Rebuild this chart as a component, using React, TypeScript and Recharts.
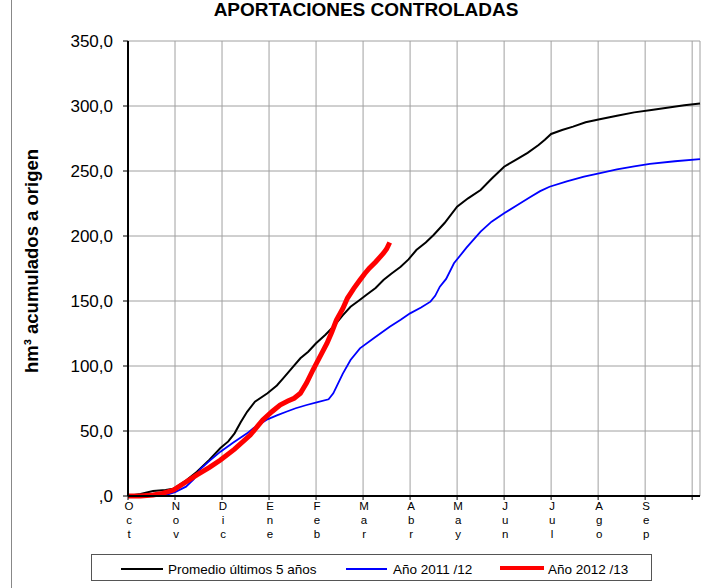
import React from "react";
import { LineChart, Line, XAxis, YAxis, CartesianGrid } from "recharts";

const meses = ["Oct", "Nov", "Dic", "Ene", "Feb", "Mar", "Abr", "May", "Jun", "Jul", "Ago", "Sep"];
const diasTicks = [0, 30, 60, 90, 120, 150, 180, 210, 240, 270, 300, 330, 360];
const diasMenores = [15, 45, 75, 105, 135, 165, 195, 225, 255, 285, 315, 345];
const valoresTicks = [0, 50, 100, 150, 200, 250, 300, 350];
const valoresMenores = [
  12.5, 25, 37.5, 62.5, 75, 87.5, 112.5, 125, 137.5, 162.5, 175, 187.5,
  212.5, 225, 237.5, 262.5, 275, 287.5, 312.5, 325, 337.5,
];

// dias desde el 1 de octubre / hm3 acumulados
const promedioDias = [
  0, 8, 16, 24, 29, 36, 44, 52, 59, 64, 68, 72, 76, 81, 89, 95, 99, 105, 110, 115,
  120, 126, 131, 137, 142, 147, 152, 158, 163, 168, 174, 179, 184, 190, 195, 202,
  210, 217, 225, 232, 240, 248, 255, 262, 266, 270, 277, 284, 292, 301, 312, 323,
  334, 344, 355, 365,
];
const promedioValores = [
  0, 1.5, 3.8, 4.6, 5.6, 11, 18.7, 28, 36.9, 42, 48.2, 57, 64.8, 72.5, 79, 85, 90.5,
  99, 105.9, 111, 117.5, 124, 130.2, 139, 145.6, 150, 154.6, 160, 166.2, 171, 176.4,
  182, 189.2, 195, 200.8, 210, 222.5, 229, 235.4, 244, 253.3, 259, 264, 270, 274,
  278.5, 281.5, 284.1, 287.5, 289.8, 292.5, 295.1, 297, 298.7, 300.5, 302,
];

const anio1112Dias = [
  0, 10, 22, 30, 37, 42, 46, 52, 59, 67, 76, 80, 89, 95, 101, 107, 114, 121, 128,
  131, 133, 137, 142, 148, 157, 167, 174, 180, 187, 193, 196, 199, 203, 208, 216,
  225, 232, 240, 248, 257, 263, 269, 280, 291, 302, 312, 323, 333, 349, 365,
];
const anio1112Valores = [
  0, 0, 0, 3, 7.2, 13, 20.5, 27, 34.1, 41, 48.2, 52.1, 59, 62, 64.8, 67.5, 70, 72.3,
  74.4, 79, 84, 94, 104.6, 113.6, 121.5, 130.2, 135.5, 140.5, 145, 149.5, 154, 161,
  167, 179, 191, 203.3, 211, 217.5, 223.5, 230.2, 234.5, 237.9, 242, 245.6, 248.6,
  251.3, 253.5, 255.4, 257.5, 259.2,
];

const anio1213Dias = [
  0, 8, 16, 22, 29, 36, 44, 52, 59, 68, 78, 86, 92, 97, 102, 106, 110, 114, 118,
  122, 127, 130, 133, 137, 140, 144, 148, 151, 154, 158, 163, 165, 167,
];
const anio1213Valores = [
  0, 0, 0.8, 2, 4.6, 10, 16.2, 22, 27.7, 36, 46.9, 58.5, 65, 70, 73, 75.2, 79, 87,
  96.9, 106, 117.5, 126, 135.4, 144, 152.1, 159.5, 166.2, 171, 175.2, 180, 186.7,
  190, 195,
];

const leyenda = ["Promedio últimos 5 años", "Año 2011 /12", "Año 2012 /13"];

const serie = (dias: number[], valores: number[]) =>
  dias.map((d, i) => ({ d, v: valores[i] }));

const promedio = serie(promedioDias, promedioValores);
const anio1112 = serie(anio1112Dias, anio1112Valores);
const anio1213 = serie(anio1213Dias, anio1213Valores);

const FONT = "'Liberation Sans', Arial, sans-serif";

function MesTick(props: any) {
  const { x, y, payload } = props;
  const mes = meses[Math.round(payload.value / 30)];
  if (!mes) return <g />;
  return (
    <text textAnchor="middle" fontSize={11.5} fontFamily={FONT} fill="#000">
      {mes.split("").map((c, i) => (
        <tspan key={i} x={x + 1} y={y + 8 + i * 14}>
          {c}
        </tspan>
      ))}
    </text>
  );
}

const fmt = (v: number) => (v === 0 ? ",0" : v.toFixed(1).replace(".", ","));

export default function App() {
  return (
    <div style={{ position: "absolute", left: 0, top: 0, width: 723, height: 588, background: "#fff" }}>
      <LineChart
        width={723}
        height={588}
        margin={{ top: 41, right: 23, bottom: 32, left: 0 }}
        style={{ position: "absolute", left: 0, top: 0 }}
      >
        <CartesianGrid stroke="#a0a0a0" />
        <XAxis
          dataKey="d"
          type="number"
          domain={[0, 365]}
          ticks={diasTicks}
          interval={0}
          height={60}
          tick={<MesTick />}
          tickSize={4}
          tickMargin={2}
          axisLine={{ stroke: "#000", strokeWidth: 2 }}
          tickLine={{ stroke: "#000" }}
        />
        <XAxis
          xAxisId="menor"
          dataKey="d"
          type="number"
          domain={[0, 365]}
          ticks={diasMenores}
          interval={0}
          mirror
          height={0}
          tick={false}
          tickSize={3}
          axisLine={false}
          tickLine={{ stroke: "#000" }}
        />
        <YAxis
          type="number"
          domain={[0, 350]}
          ticks={valoresTicks}
          interval={0}
          width={128}
          tickFormatter={fmt}
          tickSize={5}
          tickMargin={10}
          tick={{ fontSize: 17, fill: "#000", fontFamily: FONT }}
          axisLine={{ stroke: "#000", strokeWidth: 2 }}
          tickLine={{ stroke: "#000" }}
        />
        <YAxis
          yAxisId="menor"
          type="number"
          domain={[0, 350]}
          ticks={valoresMenores}
          interval={0}
          mirror
          width={0}
          tick={false}
          tickSize={3}
          axisLine={false}
          tickLine={{ stroke: "#000" }}
        />
        <YAxis
          yAxisId="borde"
          orientation="right"
          type="number"
          domain={[0, 350]}
          ticks={[]}
          width={0}
          tick={false}
          tickLine={false}
          axisLine={{ stroke: "#909090", strokeWidth: 2 }}
        />
        <Line data={promedio} dataKey="v" type="linear" stroke="#000" strokeWidth={2} dot={false} isAnimationActive={false} />
        <Line data={anio1112} dataKey="v" type="linear" stroke="#0000ff" strokeWidth={1.8} dot={false} isAnimationActive={false} />
        <Line data={anio1213} dataKey="v" type="linear" stroke="#ff0000" strokeWidth={5} dot={false} isAnimationActive={false} />
      </LineChart>
      <svg width={723} height={588} style={{ position: "absolute", left: 0, top: 0, pointerEvents: "none" }}>
        <line x1={11.5} y1={0} x2={11.5} y2={588} stroke="#888" />
        <text x={366} y={16} textAnchor="middle" fontWeight="bold" fontSize={19} fontFamily={FONT} fill="#000">
          APORTACIONES CONTROLADAS
        </text>
        <text
          transform="translate(38,261) rotate(-90)"
          textAnchor="middle"
          fontWeight="bold"
          fontSize={18.5}
          fontFamily={FONT}
          fill="#000"
        >
          hm³ acumulados a origen
        </text>
        <rect x={91.5} y={554.5} width={560} height={26} fill="none" stroke="#555" />
        <line x1={121} y1={569} x2={163} y2={569} stroke="#000" strokeWidth={2} />
        <text x={168} y={573.5} fontSize={13.5} fontFamily={FONT} fill="#000">{leyenda[0]}</text>
        <line x1={346} y1={569} x2={387} y2={569} stroke="#0000ff" strokeWidth={2} />
        <text x={393} y={573.5} fontSize={13.5} fontFamily={FONT} fill="#000">{leyenda[1]}</text>
        <line x1={500} y1={568} x2={544} y2={568} stroke="#ff0000" strokeWidth={4} />
        <text x={548} y={573.5} fontSize={13.5} fontFamily={FONT} fill="#000">{leyenda[2]}</text>
      </svg>
    </div>
  );
}
